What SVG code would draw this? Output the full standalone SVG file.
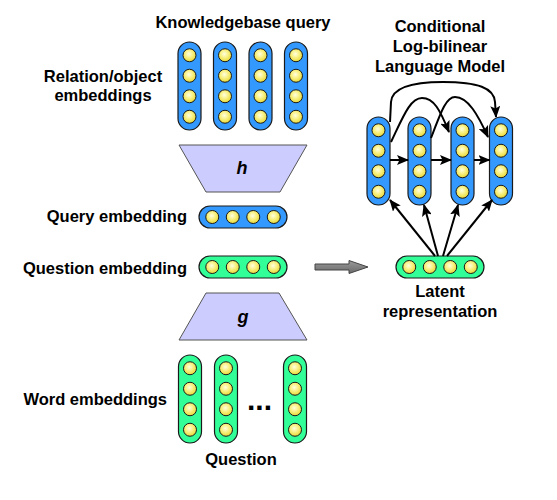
<svg xmlns="http://www.w3.org/2000/svg" width="557" height="500" viewBox="0 0 557 500">
<defs>
<radialGradient id="ball" cx="0.45" cy="0.4" r="0.6">
<stop offset="0" stop-color="#ffffe0"/>
<stop offset="0.5" stop-color="#f8f080"/>
<stop offset="1" stop-color="#e8d838"/>
</radialGradient>
<linearGradient id="grayArrow" x1="0" y1="0" x2="0" y2="1">
<stop offset="0" stop-color="#9a9a9a"/>
<stop offset="1" stop-color="#6a6a6a"/>
</linearGradient>
<marker id="ah" viewBox="0 0 12 10" refX="11" refY="5" markerWidth="12" markerHeight="10" markerUnits="userSpaceOnUse" orient="auto">
<path d="M0,0 L12,5 L0,10 L2.5,5 Z" fill="#000"/>
</marker>
<style>
.blue{fill:#3399ff;stroke:#1a1a1a;stroke-width:1.2}
.green{fill:#33ff99;stroke:#1a1a1a;stroke-width:1.2}
.ball{fill:url(#ball);stroke:#1a1a1a;stroke-width:1}
.trap{fill:#ccccff;stroke:#555;stroke-width:1}
.lbl{font-family:"Liberation Sans",Arial,Helvetica,sans-serif;font-weight:bold;font-size:16.5px;fill:#000}
.fn{font-family:"Liberation Sans",Arial,Helvetica,sans-serif;font-weight:bold;font-style:italic;font-size:18px;fill:#000}
.conn{fill:none;stroke:#000;stroke-width:2;marker-end:url(#ah)}
</style>
</defs>
<rect width="557" height="500" fill="#fff"/>

<!-- Labels -->
<g id="labels">
<text class="lbl" x="243" y="28" text-anchor="middle">Knowledgebase query</text>
<text class="lbl" x="103" y="82" text-anchor="middle">Relation/object</text>
<text class="lbl" x="103" y="101" text-anchor="middle">embeddings</text>
<text class="lbl" x="187" y="222" text-anchor="end">Query embedding</text>
<text class="lbl" x="187" y="274" text-anchor="end">Question embedding</text>
<text class="lbl" x="167" y="405" text-anchor="end">Word embeddings</text>
<text class="lbl" x="241" y="465" text-anchor="middle">Question</text>
<text class="lbl" x="440" y="32" text-anchor="middle">Conditional</text>
<text class="lbl" x="440" y="52" text-anchor="middle">Log-bilinear</text>
<text class="lbl" x="440" y="72" text-anchor="middle">Language Model</text>
<text class="lbl" x="440" y="297" text-anchor="middle">Latent</text>
<text class="lbl" x="440" y="317" text-anchor="middle">representation</text>
</g>

<!-- Knowledgebase query columns -->
<g id="kb1"><rect class="blue" x="178" y="42" width="23" height="88" rx="11.5"/>
<circle class="ball" cx="189.5" cy="55.25" r="6.5"/><circle class="ball" cx="189.5" cy="75.75" r="6.5"/><circle class="ball" cx="189.5" cy="96.25" r="6.5"/><circle class="ball" cx="189.5" cy="116.75" r="6.5"/></g>
<g id="kb2"><rect class="blue" x="213.5" y="42" width="23" height="88" rx="11.5"/>
<circle class="ball" cx="225" cy="55.25" r="6.5"/><circle class="ball" cx="225" cy="75.75" r="6.5"/><circle class="ball" cx="225" cy="96.25" r="6.5"/><circle class="ball" cx="225" cy="116.75" r="6.5"/></g>
<g id="kb3"><rect class="blue" x="249" y="42" width="23" height="88" rx="11.5"/>
<circle class="ball" cx="260.5" cy="55.25" r="6.5"/><circle class="ball" cx="260.5" cy="75.75" r="6.5"/><circle class="ball" cx="260.5" cy="96.25" r="6.5"/><circle class="ball" cx="260.5" cy="116.75" r="6.5"/></g>
<g id="kb4"><rect class="blue" x="284.5" y="42" width="23" height="88" rx="11.5"/>
<circle class="ball" cx="296" cy="55.25" r="6.5"/><circle class="ball" cx="296" cy="75.75" r="6.5"/><circle class="ball" cx="296" cy="96.25" r="6.5"/><circle class="ball" cx="296" cy="116.75" r="6.5"/></g>

<!-- h -->
<g id="h"><polygon class="trap" points="179,145 307,145 280,192 206,192"/>
<text class="fn" x="242" y="174" text-anchor="middle">h</text></g>

<!-- Query embedding -->
<g id="query"><rect class="blue" x="199" y="206" width="88" height="22" rx="11"/>
<circle class="ball" cx="212.25" cy="217" r="6.5"/><circle class="ball" cx="232.75" cy="217" r="6.5"/><circle class="ball" cx="253.25" cy="217" r="6.5"/><circle class="ball" cx="273.75" cy="217" r="6.5"/></g>

<!-- Question embedding -->
<g id="question"><rect class="green" x="199" y="256" width="88" height="22" rx="11"/>
<circle class="ball" cx="212.25" cy="267" r="6.5"/><circle class="ball" cx="232.75" cy="267" r="6.5"/><circle class="ball" cx="253.25" cy="267" r="6.5"/><circle class="ball" cx="273.75" cy="267" r="6.5"/></g>

<!-- g -->
<g id="g"><polygon class="trap" points="206,293 279,293 307,340 179,340"/>
<text class="fn" x="243" y="323" text-anchor="middle">g</text></g>

<!-- Word embeddings -->
<g id="w1"><rect class="green" x="178.5" y="355" width="23" height="88" rx="11.5"/>
<circle class="ball" cx="190" cy="368.25" r="6.5"/><circle class="ball" cx="190" cy="388.75" r="6.5"/><circle class="ball" cx="190" cy="409.25" r="6.5"/><circle class="ball" cx="190" cy="429.75" r="6.5"/></g>
<g id="w2"><rect class="green" x="214.5" y="355" width="23" height="88" rx="11.5"/>
<circle class="ball" cx="226" cy="368.25" r="6.5"/><circle class="ball" cx="226" cy="388.75" r="6.5"/><circle class="ball" cx="226" cy="409.25" r="6.5"/><circle class="ball" cx="226" cy="429.75" r="6.5"/></g>
<g id="w3"><rect class="green" x="283.5" y="355" width="23" height="88" rx="11.5"/>
<circle class="ball" cx="295" cy="368.25" r="6.5"/><circle class="ball" cx="295" cy="388.75" r="6.5"/><circle class="ball" cx="295" cy="409.25" r="6.5"/><circle class="ball" cx="295" cy="429.75" r="6.5"/></g>
<text class="lbl" x="247" y="410" style="font-size:30px">...</text>

<!-- Latent representation -->
<g id="latent"><rect class="green" x="396" y="256" width="88" height="22" rx="11"/>
<circle class="ball" cx="409.25" cy="267" r="6.5"/><circle class="ball" cx="429.75" cy="267" r="6.5"/><circle class="ball" cx="450.25" cy="267" r="6.5"/><circle class="ball" cx="470.75" cy="267" r="6.5"/></g>

<!-- LBL columns -->
<g id="lm1"><rect class="blue" x="367" y="117" width="23" height="88" rx="11.5"/>
<circle class="ball" cx="378.5" cy="130.25" r="6.5"/><circle class="ball" cx="378.5" cy="150.75" r="6.5"/><circle class="ball" cx="378.5" cy="171.25" r="6.5"/><circle class="ball" cx="378.5" cy="191.75" r="6.5"/></g>
<g id="lm2"><rect class="blue" x="408" y="117" width="23" height="88" rx="11.5"/>
<circle class="ball" cx="419.5" cy="130.25" r="6.5"/><circle class="ball" cx="419.5" cy="150.75" r="6.5"/><circle class="ball" cx="419.5" cy="171.25" r="6.5"/><circle class="ball" cx="419.5" cy="191.75" r="6.5"/></g>
<g id="lm3"><rect class="blue" x="451" y="117" width="23" height="88" rx="11.5"/>
<circle class="ball" cx="462.5" cy="130.25" r="6.5"/><circle class="ball" cx="462.5" cy="150.75" r="6.5"/><circle class="ball" cx="462.5" cy="171.25" r="6.5"/><circle class="ball" cx="462.5" cy="191.75" r="6.5"/></g>
<g id="lm4"><rect class="blue" x="489.5" y="117" width="23" height="88" rx="11.5"/>
<circle class="ball" cx="501" cy="130.25" r="6.5"/><circle class="ball" cx="501" cy="150.75" r="6.5"/><circle class="ball" cx="501" cy="171.25" r="6.5"/><circle class="ball" cx="501" cy="191.75" r="6.5"/></g>

<!-- Connectors -->
<g id="connectors">
<polygon points="315,264 349,264 349,260.5 368,267 349,273.5 349,270 315,270" fill="url(#grayArrow)" stroke="#444" stroke-width="1"/>
<line class="conn" x1="390" y1="160" x2="408" y2="160"/>
<line class="conn" x1="431" y1="160" x2="451" y2="160"/>
<line class="conn" x1="474" y1="160" x2="489.5" y2="160"/>
<path class="conn" d="M390,122 L391,102 C392,88 410,82 443,82 C478,82 494,88 495,102 L496,117"/>
<path class="conn" d="M391,142 C403,117 410,98 422,98 C434,98 440,110 449,132"/>
<path class="conn" d="M431,138 C441,112 446,97 455,97 C468,97 478,115 488,137"/>
<line class="conn" x1="435" y1="256" x2="390" y2="200"/>
<line class="conn" x1="438" y1="256" x2="424" y2="205"/>
<line class="conn" x1="443" y1="256" x2="458" y2="205"/>
<line class="conn" x1="447" y1="256" x2="492" y2="200"/>
</g>
</svg>
